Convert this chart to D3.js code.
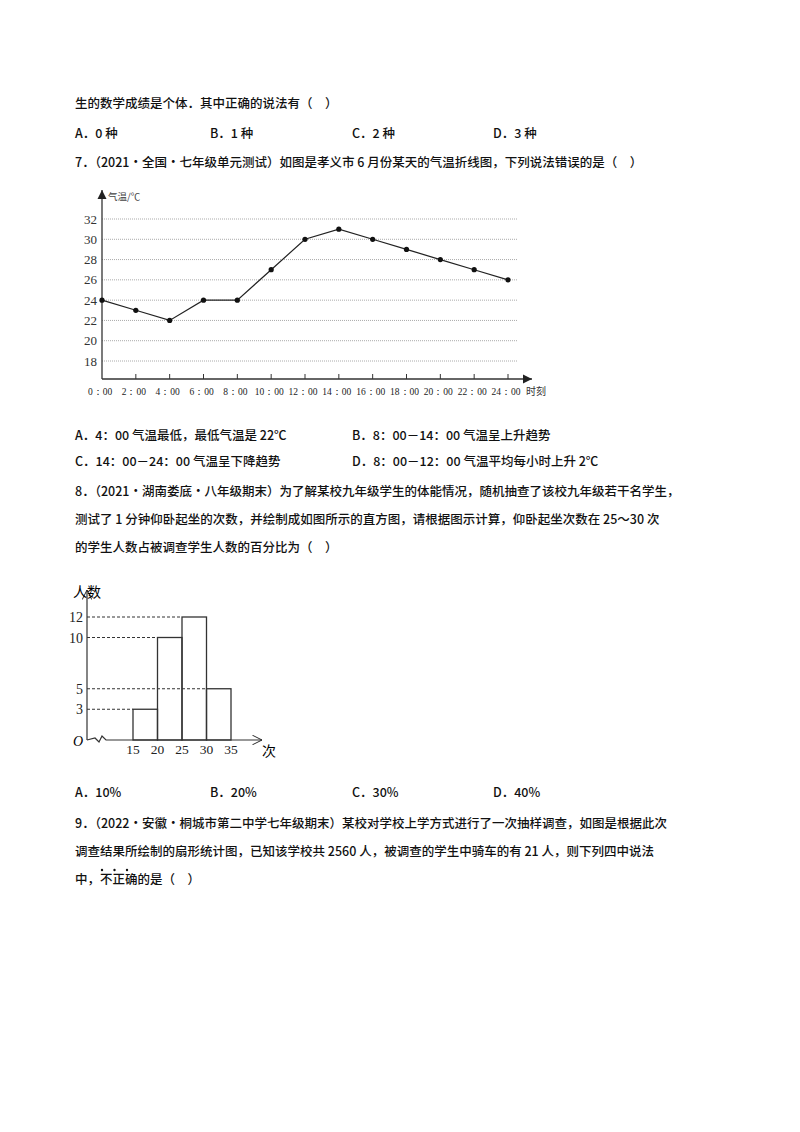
<!DOCTYPE html>
<html><head><meta charset="utf-8">
<script src="https://cdn.jsdelivr.net/npm/d3@7"></script>
<style>body{margin:0;background:#fff}svg{font-family:"Noto Sans CJK SC",sans-serif}</style>
</head><body>
<svg id="page" width="800" height="1132"></svg>
<script>
const hours = [0, 2, 4, 6, 8, 10, 12, 14, 16, 18, 20, 22, 24];
const temps = [24, 23, 22, 24, 24, 27, 30, 31, 30, 29, 28, 27, 26];
const tempTicks = [18, 20, 22, 24, 26, 28, 30, 32];
const binEdges = [15, 20, 25, 30, 35];
const binCounts = [3, 10, 12, 5];
const countTicks = [3, 5, 10, 12];

const lines = [
  [75, 108, "生的数学成绩是个体．其中正确的说法有（　）"],
  [75, 138, "A．0 种"], [210, 138, "B．1 种"], [352, 138, "C．2 种"], [493, 138, "D．3 种"],
  [75, 167, "7．（2021·全国·七年级单元测试）如图是孝义市 6 月份某天的气温折线图，下列说法错误的是（　）"],
  [75, 440, "A．4：00 气温最低，最低气温是 22℃"], [352, 440, "B．8：00－14：00 气温呈上升趋势"],
  [75, 466, "C．14：00－24：00 气温呈下降趋势"], [352, 466, "D．8：00－12：00 气温平均每小时上升 2℃"],
  [75, 496, "8．（2021·湖南娄底·八年级期末）为了解某校九年级学生的体能情况，随机抽查了该校九年级若干名学生，"],
  [75, 524, "测试了 1 分钟仰卧起坐的次数，并绘制成如图所示的直方图，请根据图示计算，仰卧起坐次数在 25～30 次"],
  [75, 552, "的学生人数占被调查学生人数的百分比为（　）"],
  [75, 797, "A．10%"], [210, 797, "B．20%"], [352, 797, "C．30%"], [493, 797, "D．40%"],
  [75, 828, "9．（2022·安徽·桐城市第二中学七年级期末）某校对学校上学方式进行了一次抽样调查，如图是根据此次"],
  [75, 856, "调查结果所绘制的扇形统计图，已知该学校共 2560 人，被调查的学生中骑车的有 21 人，则下列四中说法"],
  [75, 884, "中，不正确的是（　）"]
];

const svg = d3.select("#page");
svg.append("g").selectAll("text").data(lines).join("text")
  .attr("x", d => d[0]).attr("y", d => d[1]).attr("font-size", 12.5).attr("font-weight", 500).attr("fill", "#111")
  .text(d => d[2]);
// emphasis dots under 不正确
svg.append("g").selectAll("circle").data([0, 1, 2]).join("circle")
  .attr("cx", i => 102 + i * 12.5).attr("cy", 870).attr("r", 1.2).attr("fill", "#111");

svg.append("defs").append("marker").attr("id", "arr").attr("viewBox", "0 -5 10 10")
  .attr("refX", 10).attr("markerWidth", 7).attr("markerHeight", 7).attr("orient", "auto")
  .append("path").attr("d", "M0,-5L10,0L0,5Z").attr("fill", "#222");
svg.append("defs").append("marker").attr("id", "arr2").attr("viewBox", "0 -5 10 10")
  .attr("refX", 10).attr("markerWidth", 8).attr("markerHeight", 8).attr("orient", "auto")
  .append("path").attr("d", "M0,-5L10,0L0,5").attr("fill", "none").attr("stroke", "#222");

// line chart
{
  const g = svg.append("g").attr("font-family", "Liberation Serif, serif");
  const x = d3.scaleLinear().domain([0, 24]).range([102, 508]);
  const y = d3.scaleLinear().domain([18, 32]).range([361, 219]);
  const yBase = 379;
  g.selectAll(".grid").data(tempTicks).join("line")
    .attr("x1", 102).attr("x2", 518).attr("y1", d => y(d)).attr("y2", d => y(d))
    .attr("stroke", "#aaa").attr("stroke-dasharray", "1,1");
  g.selectAll(".yl").data(tempTicks).join("text")
    .attr("x", 97).attr("y", d => y(d) + 4.5).attr("text-anchor", "end").attr("font-size", 13).attr("fill", "#333").text(d => d);
  g.append("line").attr("x1", 102).attr("x2", 102).attr("y1", yBase).attr("y2", 190)
    .attr("stroke", "#333").attr("stroke-width", 1.3).attr("marker-end", "url(#arr)");
  g.append("line").attr("x1", 102).attr("x2", 532).attr("y1", yBase).attr("y2", yBase)
    .attr("stroke", "#333").attr("stroke-width", 1.3).attr("marker-end", "url(#arr)");
  g.selectAll(".xt").data(hours.slice(1)).join("line")
    .attr("x1", d => x(d)).attr("x2", d => x(d)).attr("y1", yBase).attr("y2", yBase - 5).attr("stroke", "#333");
  g.selectAll(".xl").data(hours).join("text")
    .attr("x", d => x(d) - 2).attr("y", 395).attr("text-anchor", "middle").attr("font-size", 9.5).attr("fill", "#222")
    .text(d => d + "：00");
  g.append("text").attr("x", 526).attr("y", 395).attr("font-size", 10).attr("fill", "#333")
    .attr("font-family", "Noto Sans CJK SC").text("时刻");
  g.append("text").attr("x", 108).attr("y", 200).attr("font-size", 9.5).attr("fill", "#444")
    .attr("font-family", "Noto Sans CJK SC").text("气温/℃");
  const pts = hours.map((h, i) => [h, temps[i]]);
  g.append("path").attr("d", d3.line().x(d => x(d[0])).y(d => y(d[1]))(pts))
    .attr("fill", "none").attr("stroke", "#222").attr("stroke-width", 1.2);
  g.selectAll(".pt").data(pts).join("circle").attr("cx", d => x(d[0])).attr("cy", d => y(d[1]))
    .attr("r", 2.6).attr("fill", "#111");
}

// histogram
{
  const g = svg.append("g").attr("font-family", "Liberation Serif, serif");
  const x = d3.scaleLinear().domain([15, 35]).range([133, 231]);
  const y = d3.scaleLinear().domain([0, 12]).range([740, 617]);
  const x0 = 87;
  g.selectAll(".dl").data(countTicks).join("line")
    .attr("x1", x0).attr("y1", d => y(d)).attr("y2", d => y(d))
    .attr("x2", d => { const i = binCounts.indexOf(d); return x(binEdges[i]); })
    .attr("stroke", "#333").attr("stroke-dasharray", "3,2");
  g.selectAll(".bar").data(binCounts).join("rect")
    .attr("x", (d, i) => x(binEdges[i])).attr("width", (d, i) => x(binEdges[i + 1]) - x(binEdges[i]))
    .attr("y", d => y(d)).attr("height", d => y(0) - y(d))
    .attr("fill", "none").attr("stroke", "#333").attr("stroke-width", 1.3);
  g.append("line").attr("x1", x0).attr("x2", x0).attr("y1", 740).attr("y2", 590)
    .attr("stroke", "#333").attr("stroke-width", 1.2).attr("marker-end", "url(#arr2)");
  g.append("path").attr("d", `M${x0},740 L${x0 + 8},738 L${x0 + 12},742 L${x0 + 15},736 L${x0 + 19},740 L262,740`)
    .attr("fill", "none").attr("stroke", "#333").attr("stroke-width", 1.2).attr("marker-end", "url(#arr2)");
  g.selectAll(".yl").data(countTicks).join("text")
    .attr("x", x0 - 4).attr("y", d => y(d) + 5).attr("text-anchor", "end").attr("font-size", 14).attr("fill", "#222").text(d => d);
  g.selectAll(".xl").data(binEdges).join("text")
    .attr("x", d => x(d)).attr("y", 754).attr("text-anchor", "middle").attr("font-size", 13.5).attr("fill", "#222").text(d => d);
  g.append("text").attr("x", 73).attr("y", 746).attr("font-size", 14).attr("font-style", "italic").text("O");
  g.append("text").attr("x", 73).attr("y", 597).attr("font-size", 14).attr("font-family", "Noto Sans CJK SC").text("人数");
  g.append("text").attr("x", 262).attr("y", 756).attr("font-size", 14).attr("font-family", "Noto Sans CJK SC").text("次");
}
</script>
</body></html>
